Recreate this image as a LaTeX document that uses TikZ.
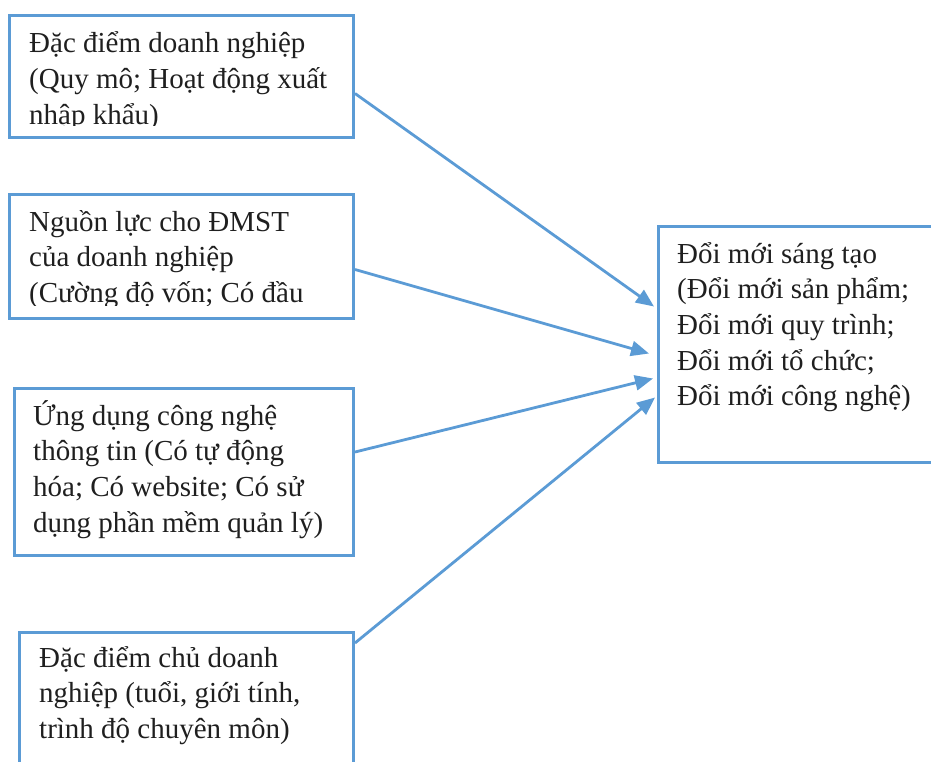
\documentclass[tikz,border=0pt]{standalone}
\usepackage{fontspec}
\setmainfont{Liberation Serif}
\usetikzlibrary{arrows.meta}
\definecolor{wblue}{HTML}{5B9BD5}
\begin{document}
\begin{tikzpicture}[x=1pt,y=-1pt,
  box/.style={draw=wblue, line width=3pt, rectangle, inner sep=0pt, anchor=north west},
  txt/.style={anchor=base west, inner sep=0pt, text width=330pt, align=flush left,
    font=\fontsize{29}{35.7}\selectfont, text=black!88},
  arr/.style={draw=wblue, line width=2.8pt, -{Triangle[length=18pt,width=15pt]}}]
\useasboundingbox (0,0) rectangle (931,762);
% boxes
\node[box, minimum width=344pt, minimum height=122pt] (b1) at (8,14) {};
\node[box, minimum width=344pt, minimum height=124pt] (b2) at (8,193) {};
\node[box, minimum width=339pt, minimum height=167pt] (b3) at (13,387) {};
\node[box, minimum width=334pt, minimum height=169pt] (b4) at (18,631) {};
\node[box, minimum width=303pt, minimum height=236pt] (r) at (657,225) {};
% texts
\begin{scope}
\clip (8,14) rectangle (352,125.5);
\node[txt] (t1) at (29,53) {Đặc điểm doanh nghiệp\\(Quy mô; Hoạt động xuất\\nhập khẩu)};
\end{scope}
\begin{scope}
\clip (8,193) rectangle (352,305.5);
\node[txt] (t2) at (29,231) {Nguồn lực cho ĐMST\\của doanh nghiệp\\(Cường độ vốn; Có đầu};
\end{scope}
\node[txt] (t3) at (33,425) {Ứng dụng công nghệ\\thông tin (Có tự động\\hóa; Có website; Có sử\\dụng phần mềm quản lý)};
\node[txt] (t4) at (39,667) {Đặc điểm chủ doanh\\nghiệp (tuổi, giới tính,\\trình độ chuyên môn)};
\node[txt, text width=260pt] (tr) at (677,263) {Đổi mới sáng tạo\\(Đổi mới sản phẩm;\\Đổi mới quy trình;\\Đổi mới tổ chức;\\Đổi mới công nghệ)};
% arrows
\draw[arr] ([yshift=-17pt]b1.east) -- ([xshift=-3pt,yshift=38pt]r.west);
\draw[arr] ([yshift=-13pt]b2.east) -- ([xshift=-8pt,yshift=-9pt]r.west);
\draw[arr] ([yshift=20pt]b3.east) -- ([xshift=-4pt,yshift=-34pt]r.west);
\draw[arr] ([yshift=74pt]b4.east) -- ([xshift=-2pt,yshift=-53pt]r.west);
\end{tikzpicture}
\end{document}
